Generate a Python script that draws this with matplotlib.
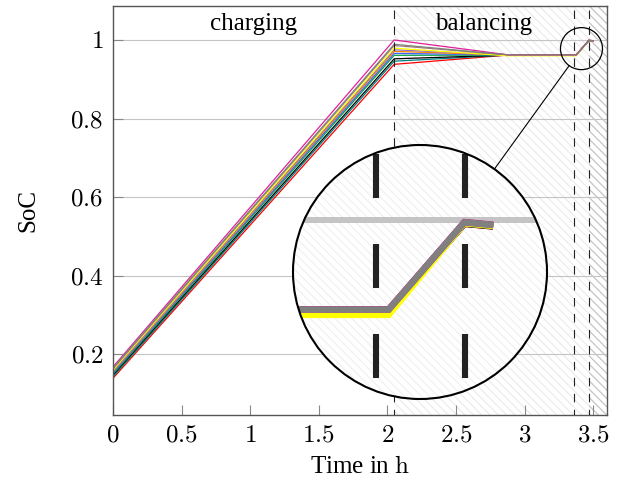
import matplotlib
matplotlib.use('Agg')
import matplotlib.pyplot as plt
from matplotlib.patches import Circle
import numpy as np

plt.rcParams['font.family'] = ['Liberation Serif', 'DejaVu Serif']
plt.rcParams['mathtext.fontset'] = 'cm'
plt.rcParams['lines.scale_dashes'] = False
plt.rcParams['hatch.linewidth'] = 0.8

# time points of the piecewise linear SoC curves (h)
t = [0, 2.049, 2.88, 3.376, 3.468, 3.499]

colors = ['#ff0000', '#008080', '#000000', '#00a040', '#4060ff', '#ff8000',
          '#9070c0', '#ffff00', '#a08070', '#e0209a', '#808080']
soc_start = [0.139, 0.143, 0.147, 0.150, 0.153, 0.156, 0.158, 0.160, 0.163, 0.168, 0.165]
soc_peak = [0.938, 0.946, 0.952, 0.961, 0.966, 0.971, 0.975, 0.979, 0.986, 1.000, 0.989]
# small spread after balancing (before and after the final charge)
offset_flat = [-0.0004, -0.0003, -0.0004, -0.0003, -0.0002, -0.0002, 0.0, -0.0022, 0.0, 0.0002, 0.0001]
offset_end = [-0.0006, -0.0003, -0.0005, -0.0004, -0.0002, -0.0002, 0.0, -0.0003, 0.0, 0.0002, 0.0001]
soc_balanced = 0.962
soc_end = [0.999, 0.998]

phase_t = [2.049, 3.36, 3.469]
xticks = [0, 0.5, 1, 1.5, 2, 2.5, 3, 3.5]
xtick_labels = ['0', '0.5', '1', '1.5', '2', '2.5', '3', '3.5']
yticks = [0.2, 0.4, 0.6, 0.8, 1.0]
ytick_labels = ['0.2', '0.4', '0.6', '0.8', '1']

curves = []
for s0, sp, o1, o2 in zip(soc_start, soc_peak, offset_flat, offset_end):
    curves.append([s0, sp, soc_balanced + o1, soc_balanced + o1,
                   soc_end[0] + o2, soc_end[1] + o2])

fig = plt.figure(figsize=(6.21, 4.87), dpi=100)
ax = fig.add_axes([113 / 621, 1 - 415 / 487, (607 - 113) / 621, (415 - 6) / 487])


def draw(a, lw, dash, grid_lw, inset=False):
    a.axvspan(phase_t[0], 3.6, facecolor='none', edgecolor='#ebebeb' if not inset else '#efefef',
              hatch='\\\\\\\\', lw=0, zorder=0)
    if not inset:
        a.axvspan(phase_t[2], 3.6, facecolor='none', edgecolor='#c4c4c4', hatch='\\\\\\\\', lw=0, zorder=0)
    for y in yticks:
        a.axhline(y, color='#c4c4c4', lw=grid_lw, zorder=1)
    for x in phase_t:
        a.axvline(x, color='#222222', lw=dash[0], ls=dash[1], zorder=3)
    for c, s in zip(colors, curves):
        a.plot(t, s, color=c, lw=lw, zorder=2, solid_joinstyle='miter')


draw(ax, 0.9, (0.8, (2.0, (6.1, 5.4))), 0.8)
ax.set_xlim(0, 3.6)
ax.set_ylim(0.0455, 1.0865)
ax.set_xticks(xticks, ['$' + s + '$' for s in xtick_labels])
ax.set_yticks(yticks, ['$' + s + '$' for s in ytick_labels])
ax.tick_params(direction='in', length=7, color='#888888', labelsize=18, pad=7)
for sp in ax.spines.values():
    sp.set_color('#555555')
    sp.set_linewidth(1.0)
ax.set_xlabel('Time in $\\mathrm{h}$', fontsize=18, labelpad=7)
ax.set_ylabel('SoC', fontsize=18, labelpad=22)
ax.text(1.024, 1.040, 'charging', fontsize=18, ha='center', va='center')
ax.text(2.70, 1.040, 'balancing', fontsize=18, ha='center', va='center')

# spy: magnified circle
zc_t, zc_s = 3.414, 0.978
mag = 6
r_px = 127
ppx = 137.2
ppy = 392.9
hw = r_px / mag / ppx
hh = r_px / mag / ppy
sx, sy = ax.transData.transform((zc_t, zc_s))
ax.add_patch(Circle((sx, sy), 21, transform=None, fill=False, ec='black', lw=0.9, zorder=5))

cx, cy = 420, 487 - 272
axin = fig.add_axes([(cx - r_px) / 621, (cy - r_px) / 487, 2 * r_px / 621, 2 * r_px / 487])
draw(axin, 4.6, (4.4, (49.7, (31.7, 33.1))), 4.3, inset=True)
axin.set_xlim(zc_t - hw, zc_t + hw)
axin.set_ylim(zc_s - hh, zc_s + hh)
axin.axis('off')
axin.patch.set_visible(False)
clip = Circle((0.5, 0.5), 0.5, transform=axin.transAxes)
for art in axin.get_children():
    art.set_clip_path(clip)
axin.add_patch(Circle((0.5, 0.5), 0.5, transform=axin.transAxes, fc='white', ec='none', zorder=-1))
axin.add_patch(Circle((0.5, 0.5), 0.5, transform=axin.transAxes, fill=False,
                      ec='black', lw=1.5, zorder=10, clip_on=False))

# connector between the two circles
d = np.array([cx - sx, cy - sy])
d = d / np.hypot(*d)
p1 = np.array([sx, sy]) + d * 21
p2 = np.array([cx, cy]) - d * r_px
fig.add_artist(plt.Line2D([p1[0], p2[0]], [p1[1], p2[1]], transform=None, color='black', lw=0.8))

fig.savefig('out.png', dpi=100)
